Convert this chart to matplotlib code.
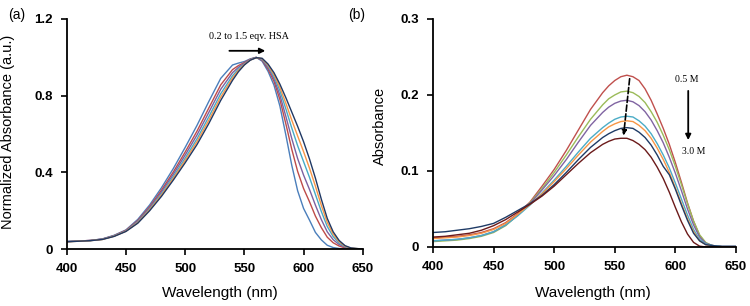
import matplotlib
matplotlib.use("Agg")
import matplotlib.pyplot as plt

# ── Data ─────────────────────────────────────────────────────
wavelength = [400, 410, 420, 430, 440, 450, 460, 470, 480, 490, 500, 510, 520, 530,
              540, 545, 550, 555, 560, 565, 570, 575, 580, 585, 590, 595, 600, 605,
              610, 615, 620, 625, 630, 635, 640, 650]

# (a) normalized spectra, 0.2 -> 1.5 eqv. HSA
norm_blue = [.040, .042, .045, .053, .072, .100, .155, .230, .320, .420, .530, .645, .770, .890,
             .960, .970, .978, .992, 1.00, .980, .927, .855, .746, .596, .438, .304, .212, .151,
             .087, .048, .020, .008, .003, .001, 0, 0]
norm_red = [.039, .042, .045, .052, .070, .098, .149, .221, .307, .402, .506, .615, .736, .856,
            .936, .957, .973, .990, 1.00, .985, .938, .875, .780, .654, .521, .405, .316, .247,
            .172, .112, .062, .033, .016, .006, .002, 0]
norm_purple = [.039, .042, .045, .052, .069, .096, .145, .215, .298, .390, .490, .595, .713, .833,
               .920, .948, .969, .989, .999, .988, .946, .888, .803, .693, .577, .472, .386, .311,
               .229, .154, .090, .049, .024, .010, .003, 0]
norm_cyan = [.039, .041, .044, .051, .068, .094, .141, .209, .288, .378, .474, .575, .690, .810,
             .904, .939, .965, .987, .999, .991, .954, .901, .826, .732, .632, .539, .456, .374,
             .285, .196, .118, .065, .032, .013, .004, 0]
norm_orange = [.038, .041, .044, .050, .067, .093, .138, .205, .282, .369, .462, .560, .672, .792,
               .892, .932, .963, .986, .998, .993, .959, .910, .843, .761, .673, .590, .508, .422,
               .328, .228, .139, .078, .039, .015, .005, 0]
norm_navy = [.038, .041, .044, .050, .066, .092, .135, .200, .275, .360, .450, .545, .655, .775,
             .880, .925, .960, .985, .998, .995, .965, .920, .860, .790, .715, .640, .560, .470,
             .370, .260, .160, .090, .045, .018, .006, 0]

# (b) absorbance, 0.5 M -> 3.0 M
abs_red = [.012, .013, .014, .016, .019, .024, .032, .044, .059, .080, .102, .127, .154, .181,
           .203, .212, .219, .224, .226, .224, .219, .208, .193, .175, .156, .135, .111, .085,
           .058, .034, .015, .005, .002, .001, 0, 0]
abs_green = [.007, .008, .009, .011, .014, .019, .028, .042, .058, .077, .098, .121, .145, .168,
             .187, .195, .200, .204, .205, .203, .198, .190, .178, .164, .147, .128, .106, .082,
             .057, .034, .016, .006, .002, .001, 0, 0]
abs_purple = [.008, .009, .010, .012, .015, .020, .029, .042, .057, .075, .094, .115, .138, .160,
              .177, .184, .189, .192, .193, .191, .186, .178, .167, .153, .137, .118, .097, .074,
              .050, .029, .013, .005, .002, .001, 0, 0]
abs_cyan = [.008, .009, .010, .012, .015, .020, .029, .041, .055, .071, .088, .106, .125, .143,
            .157, .163, .168, .171, .172, .171, .166, .159, .149, .136, .121, .104, .084, .063,
            .042, .023, .010, .004, .002, .001, 0, 0]
abs_orange = [.011, .012, .013, .015, .018, .023, .031, .043, .056, .070, .086, .103, .121, .138,
              .152, .158, .162, .165, .166, .165, .160, .153, .143, .130, .115, .098, .078, .057,
              .037, .020, .008, .003, .001, 0, 0, 0]
abs_navy = [.019, .020, .022, .024, .027, .031, .039, .048, .057, .068, .082, .098, .115, .131,
            .144, .149, .153, .156, .157, .156, .151, .144, .134, .121, .106, .095, .076, .055,
            .035, .018, .008, .003, .002, .001, .001, .001]
abs_maroon = [.013, .014, .016, .018, .022, .028, .036, .046, .056, .067, .080, .095, .110, .124,
              .135, .139, .142, .143, .143, .140, .135, .128, .118, .105, .090, .072, .052, .033,
              .017, .006, .001, 0, 0, 0, 0, 0]

x_ticks = [400, 450, 500, 550, 600, 650]
ya_ticks = [0, 0.4, 0.8, 1.2]
ya_labels = ["0", "0.4", "0.8", "1.2"]
yb_ticks = [0, 0.1, 0.2, 0.3]
yb_labels = ["0", "0.1", "0.2", "0.3"]

series_a = [norm_blue, norm_red, norm_purple, norm_cyan, norm_orange, norm_navy]
colors_a = ['#4a7ebb', '#be4b48', '#7d60a0', '#46aac5', '#f79646', '#1f3864']
series_b = [abs_red, abs_green, abs_purple, abs_cyan, abs_orange, abs_navy, abs_maroon]
colors_b = ['#c0504d', '#9bbb59', '#8064a2', '#4bacc6', '#f79646', '#1f3b66', '#6b1a1a']

plt.rcParams['font.family'] = ['Liberation Sans', 'DejaVu Sans']

fig = plt.figure(figsize=(7.5, 3.06), dpi=100)
ax_a = fig.add_axes([0.089, 0.186, 0.3947, 0.752])
ax_b = fig.add_axes([0.5773, 0.193, 0.404, 0.745])


def style_axis(ax, yticks, ylabels, ymax):
    ax.set_xlim(400, 650)
    ax.set_ylim(0, ymax)
    ax.set_xticks(x_ticks)
    ax.set_xticklabels([str(t) for t in x_ticks], fontsize=9.5, fontweight='bold')
    ax.set_yticks(yticks)
    ax.set_yticklabels(ylabels, fontsize=9.5, fontweight='bold')
    for s in ['top', 'right']:
        ax.spines[s].set_visible(False)
    for s in ['left', 'bottom']:
        ax.spines[s].set_linewidth(1.3)
    ax.tick_params(direction='out', length=4, width=1.2, pad=6)


# ── (a) ──
for y, c in zip(series_a, colors_a):
    ax_a.plot(wavelength, y, color=c, lw=1.0)
style_axis(ax_a, ya_ticks, ya_labels, 1.2)
ax_a.text(554, 1.106, "0.2 to 1.5 eqv. HSA", family='Liberation Serif', fontsize=7.3,
          ha='center', va='center')
ax_a.annotate("", xy=(570, 1.034), xytext=(535, 1.034),
              arrowprops=dict(arrowstyle='-|>', color='black', lw=1.3,
                              mutation_scale=8))

# ── (b) ──
for y, c in zip(series_b, colors_b):
    ax_b.plot(wavelength, y, color=c, lw=1.0)
style_axis(ax_b, yb_ticks, yb_labels, 0.3)
ax_b.text(609, 0.221, "0.5 M", family='Liberation Serif', fontsize=7, ha='center', va='center')
ax_b.text(615, 0.125, "3.0 M", family='Liberation Serif', fontsize=7, ha='center', va='center')
ax_b.annotate("", xy=(610.6, 0.137), xytext=(610.6, 0.209),
              arrowprops=dict(arrowstyle='-|>', color='black', lw=1.3, mutation_scale=8))
ax_b.annotate("", xy=(557, 0.143), xytext=(562.5, 0.225),
              arrowprops=dict(arrowstyle='-|>', color='black', lw=1.2, ls='--',
                              mutation_scale=7))

# ── labels ──
fig.text(0.011, 0.951, "(a)", fontsize=10, ha='left', va='center')
fig.text(0.476, 0.951, "(b)", fontsize=10, ha='center', va='center')
fig.text(0.011, 0.568, "Normalized Absorbance (a.u.)", fontsize=10.5, rotation=90,
         ha='center', va='center')
fig.text(0.506, 0.588, "Absorbance", fontsize=10.5, rotation=90, ha='center', va='center')
fig.text(0.293, 0.042, "Wavelength (nm)", fontsize=11, ha='center', va='center')
fig.text(0.791, 0.042, "Wavelength (nm)", fontsize=11, ha='center', va='center')

plt.savefig("out.png", dpi=100)
